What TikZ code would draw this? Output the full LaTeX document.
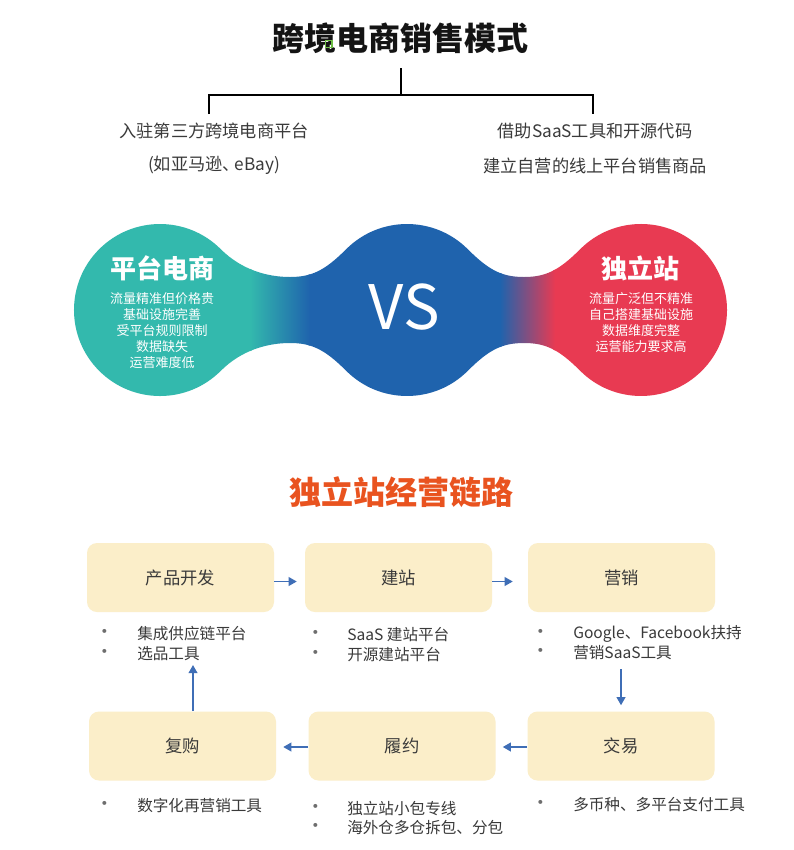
\documentclass[tikz,border=0pt]{standalone}
\usepackage{fontspec}
\setmainfont{Noto Sans CJK SC}
\usetikzlibrary{arrows.meta}
\definecolor{teal1}{RGB}{51,185,173}
\definecolor{blue1}{RGB}{31,99,173}
\definecolor{red1}{RGB}{232,58,82}
\definecolor{boxfill}{RGB}{251,238,201}
\definecolor{arrowblue}{RGB}{63,110,182}
\definecolor{orange1}{RGB}{233,83,31}
\definecolor{textdark}{RGB}{58,58,58}
\definecolor{titleblack}{RGB}{20,20,20}
\definecolor{bulletgray}{RGB}{110,110,110}
\definecolor{artgreen}{RGB}{110,190,70}
\begin{document}
\begin{tikzpicture}[x=0.75pt,y=0.75pt,
  every node/.style={inner sep=0pt},
  bigtitle/.style={font=\bfseries\fontsize{24}{28}\selectfont, text=titleblack},
  sub/.style={font=\fontsize{12.9}{15}\selectfont, text=textdark},
  lobehead/.style={font=\bfseries\fontsize{19.5}{23}\selectfont, text=white},
  lobebody/.style={font=\fontsize{9.75}{12}\selectfont, text=white, align=center},
  vstext/.style={font=\fontsize{46}{50}\selectfont, text=white},
  stagebox/.style={fill=boxfill, rounded corners=7.5pt, minimum width=140.25pt,
    minimum height=51.75pt, font=\fontsize{13}{15}\selectfont, text=textdark},
  bul/.style={font=\fontsize{14}{15}\selectfont, text=bulletgray},
  item/.style={anchor=west, font=\fontsize{11.7}{14}\selectfont, text=textdark},
  flow/.style={draw=arrowblue, line width=1.1pt, -{Triangle[length=6pt,width=6.5pt]}},
  tree/.style={draw=black, line width=1.5pt}]
\useasboundingbox (0,0) rectangle (793,-850);
\fill[white] (0,0) rectangle (793,-850);

% ---------- title and tree ----------
\node[bigtitle] (title) at (400,-38) {跨境电商销售模式};
\draw[artgreen, line width=1pt] (325.5,-40.5) rectangle (332,-47.5);
\coordinate (t0) at (401,-68);
\coordinate (t1) at (401,-95);
\coordinate (tl) at (209,-95);
\coordinate (tr) at (593,-95);
\coordinate (tl2) at (209,-114);
\coordinate (tr2) at (593,-114);
\draw[tree] (t0) -- (t1);
\draw[tree] (tl2) -- (tl) -- (tr) -- (tr2);
\node[sub] (l1) at (214,-131) {入驻第三方跨境电商平台};
\node[sub] (l2) at (214,-165) {(如亚马逊、\kern-0.3em eBay)};
\node[sub] (r1) at (595,-131) {借助SaaS工具和开源代码};
\node[sub] (r2) at (595,-166) {建立自营的线上平台销售商品};

% ---------- blob ----------
\begin{scope}
\clip (220.8,-249.2) arc[start angle=45,end angle=315,radius=86]
  .. controls (241.8,-349.8) and (268,-343) .. (290,-343)
  .. controls (312,-343) and (325.2,-349.8) .. (346.2,-370.8)
  arc[start angle=225,end angle=315,radius=86]
  .. controls (488.8,-349.8) and (502,-343) .. (524,-343)
  .. controls (546,-343) and (559.2,-349.8) .. (580.2,-370.8)
  arc[start angle=225,end angle=495,radius=86]
  .. controls (559.2,-270.2) and (546,-277) .. (524,-277)
  .. controls (502,-277) and (488.8,-270.2) .. (467.8,-249.2)
  arc[start angle=45,end angle=135,radius=86]
  .. controls (325.2,-270.2) and (312,-277) .. (290,-277)
  .. controls (268,-277) and (241.8,-270.2) .. (220.8,-249.2) -- cycle;
\fill[teal1] (60,-210) rectangle (252,-410);
\fill[blue1] (308,-210) rectangle (502,-410);
\fill[red1] (553,-210) rectangle (740,-410);
\shade[left color=teal1, right color=blue1] (250,-210) rectangle (310,-410);
\shade[left color=blue1, right color=red1] (500,-210) rectangle (555,-410);
\end{scope}
\node[lobehead] (lh) at (162,-268) {平台电商};
\node[lobebody] (lb) at (162,-331) {流量精准但价格贵\\基础设施完善\\受平台规则限制\\数据缺失\\运营难度低};
\node[vstext] (vs) at (404,-307) {VS};
\node[lobehead] (rh) at (640,-268) {独立站};
\node[lobebody] (rb) at (641,-323) {流量广泛但不精准\\自己搭建基础设施\\数据维度完整\\运营能力要求高};

% ---------- chain ----------
\node[bigtitle, text=orange1] (chain) at (401,-492) {独立站经营链路};

\node[stagebox] (b1) at (180.5,-577.5) {产品开发};
\node[stagebox] (b2) at (398.5,-577.5) {建站};
\node[stagebox] (b3) at (621.5,-577.5) {营销};
\node[stagebox] (b4) at (182.5,-746) {复购};
\node[stagebox] (b5) at (402,-746) {履约};
\node[stagebox] (b6) at (621,-746) {交易};

\draw[flow, shorten >=6pt] ([yshift=-3pt]b1.east) -- ([yshift=-3pt]b2.west);
\draw[flow, shorten >=11.25pt] ([yshift=-3pt]b2.east) -- ([yshift=-3pt]b3.west);
\coordinate (d0) at (621,-669);
\draw[flow, shorten >=4.5pt] (d0) -- (b6.north);
\draw[flow, shorten >=5.25pt] ([yshift=-0.75pt]b6.west) -- ([yshift=-0.75pt]b5.east);
\draw[flow, shorten >=5.25pt] ([yshift=-0.75pt]b5.west) -- ([yshift=-0.75pt]b4.east);
\coordinate (u0) at (193,-665);
\draw[flow] (b4.north -| u0) -- (u0);

% bullets row 1
\node[bul] (p1a) at (105,-634) {•};
\node[item] (i1a) at (137,-634) {集成供应链平台};
\node[bul] (p1b) at (105,-654) {•};
\node[item] (i1b) at (137,-654) {选品工具};
\node[bul] (p2a) at (316,-635) {•};
\node[item] (i2a) at (347,-635) {SaaS 建站平台};
\node[bul] (p2b) at (316,-655) {•};
\node[item] (i2b) at (347,-655) {开源建站平台};
\node[bul] (p3a) at (541,-634) {•};
\node[item] (i3a) at (573,-634) {Google、Facebook扶持};
\node[bul] (p3b) at (541,-653) {•};
\node[item] (i3b) at (573,-653) {营销SaaS工具};
% bullets row 2
\node[bul] (p4a) at (105,-806) {•};
\node[item] (i4a) at (137,-806) {数字化再营销工具};
\node[bul] (p5a) at (316,-809) {•};
\node[item] (i5a) at (347,-809) {独立站小包专线};
\node[bul] (p5b) at (316,-828) {•};
\node[item] (i5b) at (347,-828) {海外仓多仓拆包、分包};
\node[bul] (p6a) at (541,-805) {•};
\node[item] (i6a) at (573,-805) {多币种、多平台支付工具};
\end{tikzpicture}
\end{document}
